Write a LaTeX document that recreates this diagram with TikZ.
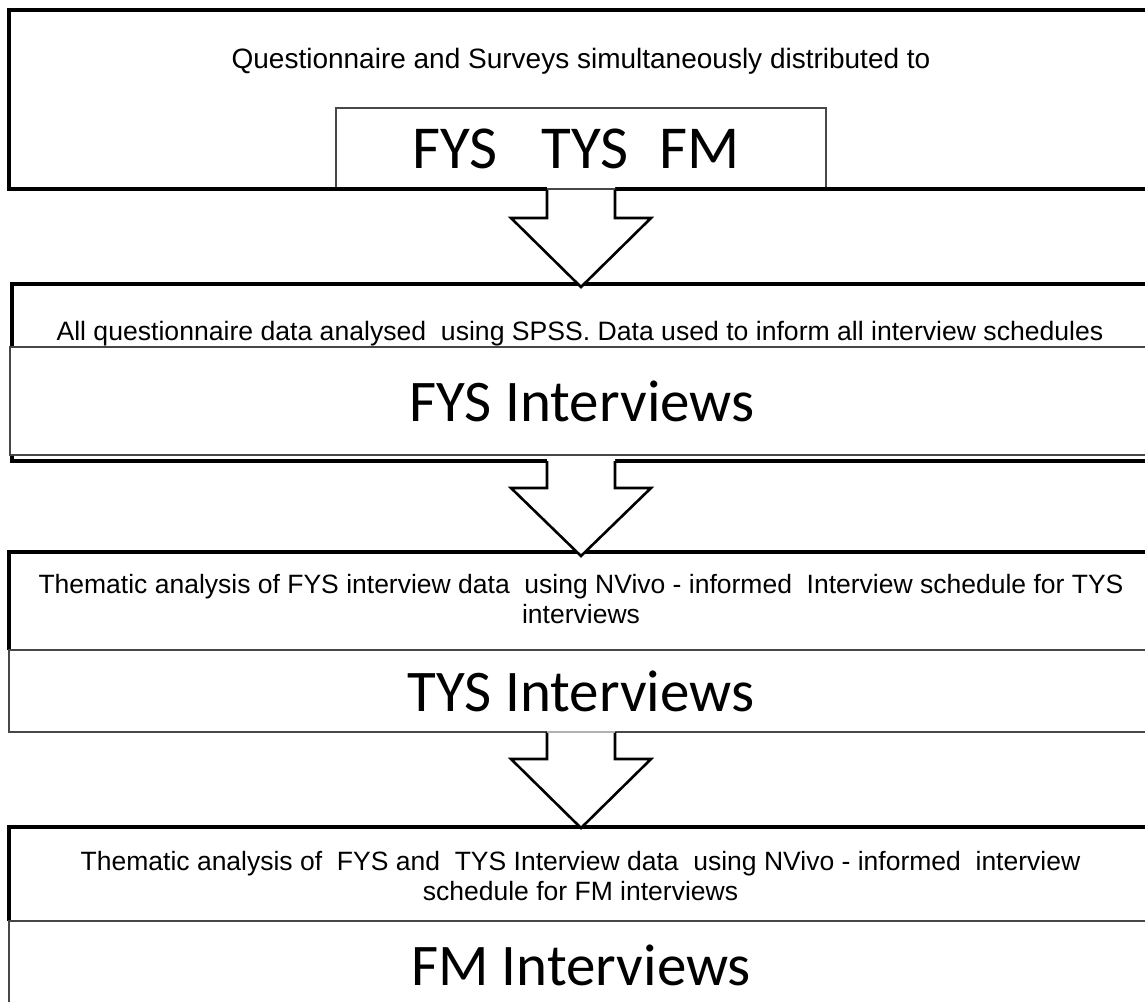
\documentclass[tikz,border=0pt]{standalone}
\usepackage{fontspec}
\setmainfont{Liberation Sans}
\newfontfamily\calib{Carlito}
\usetikzlibrary{calc}
\tikzset{
  outerframe/.style={draw=black, line width=3.2pt, inner sep=0pt, outer sep=0pt},
  noframe/.style={draw=none, inner sep=0pt, outer sep=0pt},
  outerline/.style={draw=black, line width=3.2pt},
  innerbox/.style={draw=black!72, line width=1.4pt, fill=white, inner sep=0pt, outer sep=0pt},
  innerline/.style={draw=black!72, line width=1.4pt},
  smalltxt/.style={inner sep=0pt, font=\fontsize{26.5}{30.5}\selectfont, align=center},
  bigtxt/.style={inner sep=0pt, font=\calib\fontsize{59}{70}\selectfont},
  arrline/.style={draw=black, line width=2.6pt, line join=miter},
}
\newcommand\blockarr[3]{%
  \fill[white] ($(#1)+(-34,-1.8)$) -- ($(#1)+(-34,#3)$) -- ($(#1)+(-70,#3)$) -- (#2)
     -- ($(#1)+(70,#3)$) -- ($(#1)+(34,#3)$) -- ($(#1)+(34,-1.8)$) -- cycle;
  \draw[arrline] ($(#1)+(-34,0)$) -- ($(#1)+(-34,#3)$) -- ($(#1)+(-70,#3)$) -- (#2)
     -- ($(#1)+(70,#3)$) -- ($(#1)+(34,#3)$) -- ($(#1)+(34,0)$);
}
\begin{document}
\begin{tikzpicture}[x=1pt,y=-1pt]
\useasboundingbox (0,0) rectangle (1145,1001);
\clip (0,0) rectangle (1145,1001);
\fill[white] (0,0) rectangle (1145,1001);

% Box 1
\node[innerbox, minimum width=490, minimum height=81] (b1in) at (581,148.5) {};
\node[outerframe, minimum width=1144, minimum height=179] (b1) at (581,99.5) {};
\node[anchor=base, inner sep=0pt, font=\fontsize{28}{32}\selectfont] (t1) at (581,68)
  {Questionnaire and Surveys simultaneously distributed to};
\node[bigtxt, anchor=base, font=\calib\fontsize{61}{72}\selectfont] (big1) at (576,168)
  {FYS\hspace{44pt}TYS\hspace{31pt}FM};

% Box 2
\node[outerframe, minimum width=1138, minimum height=177] (b2) at (581,372.5) {};
\node[innerbox, minimum width=1142, minimum height=108] (b2in) at (581,401) {};
\node[bigtxt] (big2) at (582,401) {FYS Interviews};
\node[anchor=base, inner sep=0pt, font=\fontsize{26.6}{30}\selectfont] (t2) at (580,340)
  {All questionnaire data analysed~ using SPSS. Data used to inform all interview schedules};

% Box 3
\node[noframe, minimum width=1144, minimum height=98] (b3) at (581,601) {};
\draw[outerline] (b3.south west) -- (b3.north west) -- (b3.north east) -- (b3.south east);
\node[innerbox, minimum width=1144, minimum height=82] (b3in) at (581,691) {};
\node[bigtxt] (big3) at (581,691) {TYS Interviews};
\node[smalltxt, anchor=north] (t3) at (581,574)
  {Thematic analysis of FYS interview data~ using NVivo - informed~ Interview schedule for TYS\\interviews};

% Box 4
\node[noframe, minimum width=1144, minimum height=94] (b4) at (581,874) {};
\draw[outerline] (b4.south west) -- (b4.north west) -- (b4.north east) -- (b4.south east);
\node[innerbox, minimum width=1144, minimum height=100] (b4in) at (581,971) {};
\node[bigtxt] (big4) at (581,965) {FM Interviews};
\node[smalltxt, anchor=north] (t4) at (580.5,851)
  {Thematic analysis of~ FYS and~ TYS Interview data~ using NVivo - informed~ interview\\schedule for FM interviews};

% Arrows
\blockarr{b1.south}{$(b2.north)+(0,3)$}{29}
\draw[innerline] ($(b1in.south)+(-34,0)$) -- ($(b1in.south)+(34,0)$);
\blockarr{b2.south}{$(b3.north)+(0,4)$}{27}
\blockarr{b3in.south}{$(b4.north)+(0,1)$}{27}
\draw[line width=1.4pt, black!30] ($(b3in.south)+(-34,0)$) -- ($(b3in.south)+(34,0)$);
\end{tikzpicture}
\end{document}
